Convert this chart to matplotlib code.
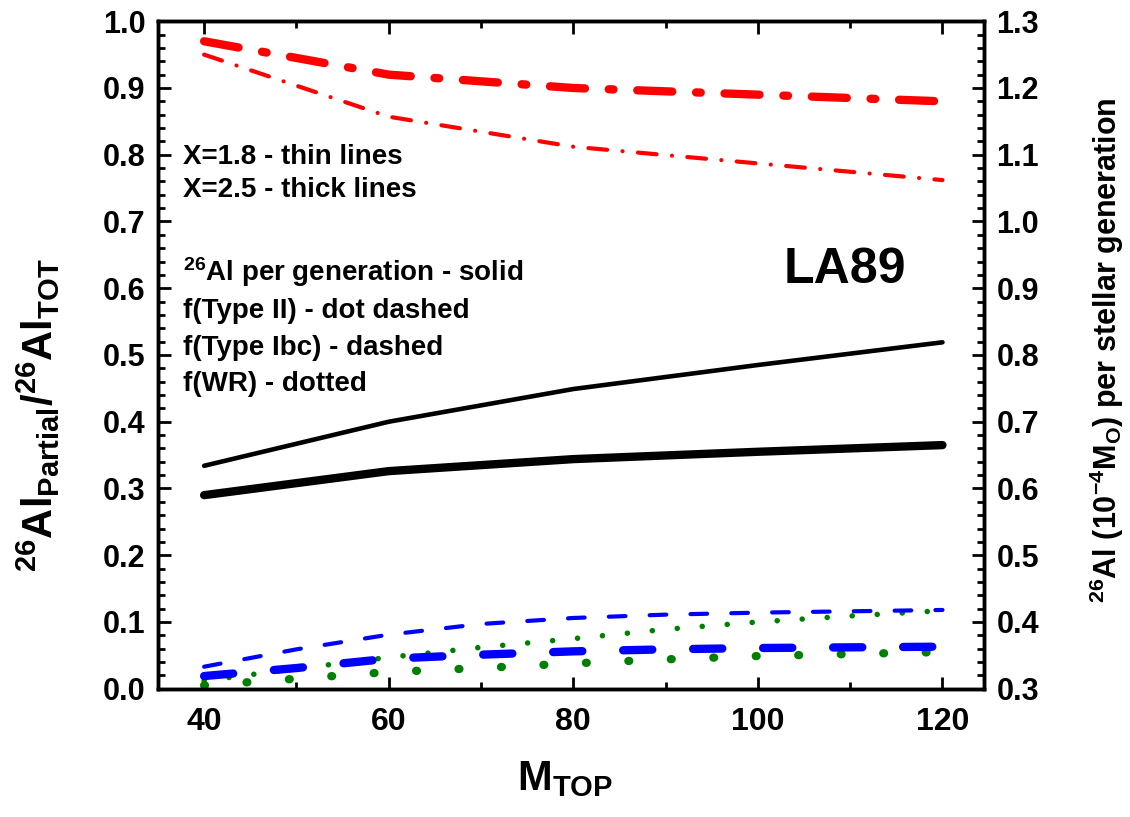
import matplotlib
matplotlib.use("Agg")
import matplotlib.pyplot as plt
from matplotlib.ticker import MultipleLocator

plt.rcParams["font.family"] = ["Liberation Sans", "DejaVu Sans"]
plt.rcParams["font.weight"] = "bold"
plt.rcParams["axes.labelweight"] = "bold"
plt.rcParams["mathtext.fontset"] = "custom"
plt.rcParams["mathtext.rm"] = "Liberation Sans:bold"
plt.rcParams["mathtext.it"] = "Liberation Sans:bold"
plt.rcParams["mathtext.bf"] = "Liberation Sans:bold"

# upper mass limit of the IMF
m_top = [40, 60, 80, 100, 120]
m_top_fine = [40, 50, 60, 70, 80, 90, 100, 110, 120]

# fraction from Type II SNe (dot dashed, left axis)
type2_thin = [0.95, 0.857, 0.812, 0.787, 0.762]
type2_thick = [0.97, 0.92, 0.90, 0.89, 0.88]

# 26Al per stellar generation (solid, right axis)
al26_thin = [0.634, 0.70, 0.749, 0.785, 0.819]
al26_thick = [0.59, 0.626, 0.644, 0.655, 0.665]

# fraction from Type Ibc SNe (dashed, left axis)
typeibc_thin = [0.033, 0.059, 0.081, 0.097, 0.106, 0.111, 0.114, 0.116, 0.118]
typeibc_thick = [0.019, 0.031, 0.045, 0.051, 0.056, 0.059, 0.061, 0.062, 0.063]

# fraction from WR winds (dotted, left axis)
wr_thin = [0.012, 0.030, 0.047, 0.062, 0.075, 0.089, 0.100, 0.109, 0.117]
wr_thick = [0.005, 0.015, 0.025, 0.031, 0.038, 0.044, 0.049, 0.052, 0.055]

fig = plt.figure(figsize=(11.3, 8.17), dpi=100)
ax = fig.add_axes([0.1398, 0.157, 0.731, 0.817])
ax2 = ax.twinx()

ax.plot(m_top, type2_thick, color="red", lw=6, dashes=(4.2, 2.86, 0.56, 2.86),
        dash_capstyle="round")
ax.plot(m_top, type2_thin, color="red", lw=3, dashes=(4.5, 3.7, 0.01, 3.7),
        dash_capstyle="round")
ax.plot(m_top_fine, wr_thin, color="green", lw=4, dashes=(0.01, 4.5),
        dash_capstyle="round")
ax.plot(m_top_fine, wr_thick, color="green", lw=6, dashes=(0.1, 5),
        dash_capstyle="round")
ax.plot(m_top_fine, typeibc_thin, color="blue", lw=3, dashes=(4, 5.8),
        dash_capstyle="round")
ax.plot(m_top_fine, typeibc_thick, color="blue", lw=6, dashes=(3.5, 4.9),
        dash_capstyle="round")
ax2.plot(m_top, al26_thin, color="black", lw=3.3, solid_capstyle="round")
ax2.plot(m_top, al26_thick, color="black", lw=6, solid_capstyle="round")

ax.set_xlim(35, 124.5)
ax.set_ylim(0, 1.0)
ax2.set_ylim(0.3, 1.3)

ax.xaxis.set_major_locator(MultipleLocator(20))
ax.xaxis.set_minor_locator(MultipleLocator(10))
ax.yaxis.set_major_locator(MultipleLocator(0.1))
ax.yaxis.set_minor_locator(MultipleLocator(0.02))
ax2.yaxis.set_major_locator(MultipleLocator(0.1))
ax2.yaxis.set_minor_locator(MultipleLocator(0.02))

ax.tick_params(which="both", direction="in", top=True, right=False, width=2)
ax.tick_params(which="major", length=9)
ax.tick_params(which="minor", length=5)
ax.tick_params(axis="y", labelsize=22, pad=9)
ax.tick_params(axis="x", labelsize=23, pad=13)
ax2.tick_params(which="both", direction="in", width=2)
ax2.tick_params(which="major", length=9)
ax2.tick_params(which="minor", length=5)
ax2.tick_params(axis="y", labelsize=22, pad=9)
ax.yaxis.set_major_formatter(lambda v, p: f"{v:.1f}")
ax2.yaxis.set_major_formatter(lambda v, p: f"{v:.1f}")

for a in (ax, ax2):
    for s in a.spines.values():
        s.set_linewidth(2.5)

ax.set_ylabel(r"$^{26}$Al$_{\mathrm{Partial}}$/$^{26}$Al$_{\mathrm{TOT}}$", fontsize=30)
ax.yaxis.set_label_coords(-0.116, 0.41)
ax2.set_ylabel(r"$^{26}$Al (10$^{-4}$M$_{\mathrm{O}}$) per stellar generation",
               fontsize=22, rotation=90)
ax2.yaxis.set_label_coords(1.125, 0.507)
ax.set_xlabel(r"M$_{\mathrm{TOP}}$", fontsize=30)
ax.xaxis.set_label_coords(0.493, -0.105)

notes = [
    (0.796, "X=1.8 - thin lines"),
    (0.747, "X=2.5 - thick lines"),
    (0.624, r"$^{26}$Al per generation - solid"),
    (0.566, "f(Type II) - dot dashed"),
    (0.510, "f(Type Ibc) - dashed"),
    (0.457, "f(WR) - dotted"),
]
for y, s in notes:
    ax.text(0.030, y, s, transform=ax.transAxes, fontsize=20, va="center")
ax.text(0.757, 0.627, "LA89", transform=ax.transAxes, fontsize=36, va="center")

fig.savefig("out.png", dpi=100)
